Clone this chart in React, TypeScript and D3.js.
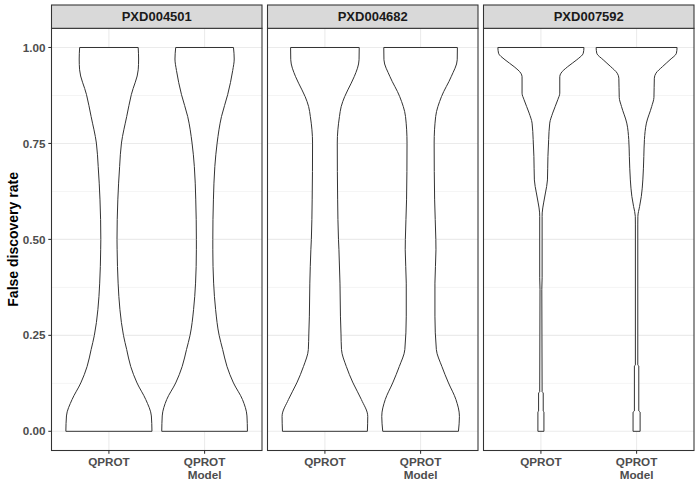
import React from "react";
import * as d3 from "d3";

const panels = ["PXD004501", "PXD004682", "PXD007592"];
const methods = ["QPROT", "QPROT Model"];
const methodLines: Record<string, string[]> = { "QPROT": ["QPROT"], "QPROT Model": ["QPROT", "Model"] };
const yTicks = [0, 0.25, 0.5, 0.75, 1];
const yTickLabels = ["0.00", "0.25", "0.50", "0.75", "1.00"];
const yMinorTicks = [0.125, 0.375, 0.625, 0.875];
const yTitle = "False discovery rate";

// PXD004501 – QPROT
const fdrA_Q = [0, 0.04, 0.083, 0.126, 0.169, 0.213, 0.25, 0.317, 0.386, 0.473, 0.5, 0.603, 0.69, 0.751, 0.82, 0.877, 0.942, 0.97, 1];
const densA_Q = [1.0, 0.986, 0.855, 0.653, 0.506, 0.413, 0.338, 0.256, 0.214, 0.191, 0.188, 0.207, 0.249, 0.291, 0.413, 0.52, 0.681, 0.69, 0.68];
// PXD004501 – QPROT Model
const fdrA_M = [0, 0.04, 0.083, 0.126, 0.169, 0.213, 0.25, 0.317, 0.386, 0.473, 0.5, 0.603, 0.69, 0.751, 0.82, 0.877, 0.94, 0.97, 1];
const densA_M = [0.995, 0.984, 0.879, 0.671, 0.52, 0.42, 0.338, 0.256, 0.21, 0.191, 0.191, 0.205, 0.238, 0.291, 0.392, 0.536, 0.653, 0.688, 0.671];

// PXD004682 – QPROT
const fdrB_Q = [0, 0.039, 0.083, 0.126, 0.169, 0.213, 0.256, 0.3, 0.386, 0.473, 0.5, 0.603, 0.751, 0.82, 0.846, 0.872, 0.907, 0.924, 0.968, 1];
const densB_Q = [0.986, 0.995, 0.846, 0.653, 0.497, 0.385, 0.373, 0.361, 0.35, 0.326, 0.315, 0.296, 0.287, 0.338, 0.378, 0.459, 0.611, 0.681, 0.793, 0.797];
// PXD004682 – QPROT Model
const fdrB_M = [0, 0.039, 0.083, 0.126, 0.169, 0.213, 0.3, 0.386, 0.473, 0.5, 0.603, 0.751, 0.82, 0.872, 0.924, 0.968, 1];
const densB_M = [0.879, 0.902, 0.82, 0.648, 0.494, 0.366, 0.333, 0.333, 0.357, 0.354, 0.326, 0.315, 0.35, 0.485, 0.711, 0.851, 0.855];

// PXD007592 – QPROT
const fdrC_Q = [0, 0.05, 0.053, 0.1, 0.103, 0.37, 0.4, 0.56, 0.569, 0.595, 0.621, 0.655, 0.716, 0.76, 0.803, 0.829, 0.864, 0.881, 0.924, 0.933, 0.95, 0.968, 0.985, 1];
const densC_Q = [0.07, 0.07, 0.054, 0.054, 0.028, 0.021, 0.028, 0.028, 0.03, 0.063, 0.105, 0.152, 0.163, 0.18, 0.205, 0.273, 0.392, 0.438, 0.438, 0.466, 0.622, 0.834, 0.984, 1.0];
// PXD007592 – QPROT Model
const fdrC_M = [0, 0.05, 0.053, 0.17, 0.173, 0.54, 0.56, 0.586, 0.612, 0.655, 0.716, 0.76, 0.803, 0.846, 0.87, 0.92, 0.933, 0.95, 0.968, 0.985, 1];
const densC_M = [0.082, 0.082, 0.051, 0.051, 0.028, 0.028, 0.03, 0.07, 0.11, 0.145, 0.168, 0.182, 0.228, 0.35, 0.403, 0.412, 0.45, 0.6, 0.776, 0.925, 0.94];

const violins = [
  { panel: "PXD004501", method: "QPROT", fdr: fdrA_Q, dens: densA_Q },
  { panel: "PXD004501", method: "QPROT Model", fdr: fdrA_M, dens: densA_M },
  { panel: "PXD004682", method: "QPROT", fdr: fdrB_Q, dens: densB_Q },
  { panel: "PXD004682", method: "QPROT Model", fdr: fdrB_M, dens: densB_M },
  { panel: "PXD007592", method: "QPROT", fdr: fdrC_Q, dens: densC_Q },
  { panel: "PXD007592", method: "QPROT Model", fdr: fdrC_M, dens: densC_M },
];

const W = 700;
const H = 500;
const plotLeft = 51.5;
const panelW = 210.5;
const gap = 5.5;
const stripTop = 5;
const stripH = 23.3;
const panelTop = stripTop + stripH;
const panelBottom = 450.5;
const font = "'Liberation Sans', Arial, Helvetica, sans-serif";

export default function App() {
  const y = d3.scaleLinear().domain([-0.05, 1.05]).range([panelBottom, panelTop]);

  return (
    <svg width={W} height={H} style={{ position: "absolute", left: 0, top: 0, background: "white" }} fontFamily={font}>
      <rect x={0} y={0} width={W} height={H} fill="white" />
      {panels.map((p, pi) => {
        const left = plotLeft + pi * (panelW + gap);
        const right = left + panelW;
        const x = d3.scalePoint<string>().domain(methods).range([left, right]).padding(0.6);
        const hwMax = 0.45 * x.step();
        const vs = violins.filter((v) => v.panel === p);
        return (
          <g key={p}>
            {/* grid */}
            {yMinorTicks.map((t) => (
              <line key={"mn" + t} x1={left} x2={right} y1={y(t)} y2={y(t)} stroke="#EBEBEB" strokeWidth={0.55} />
            ))}
            {yTicks.map((t) => (
              <line key={"mj" + t} x1={left} x2={right} y1={y(t)} y2={y(t)} stroke="#EBEBEB" strokeWidth={1.07} />
            ))}
            {methods.map((m) => (
              <line key={"vx" + m} x1={x(m)} x2={x(m)} y1={panelTop} y2={panelBottom} stroke="#EBEBEB" strokeWidth={1.07} />
            ))}
            {/* violins */}
            {vs.map((v) => {
              const cx = x(v.method) as number;
              const pts = v.fdr.map((f, i) => [f, v.dens[i]] as [number, number]);
              const area = d3
                .area<[number, number]>()
                .curve(d3.curveMonotoneY)
                .y((d) => y(d[0]))
                .x0((d) => cx - d[1] * hwMax)
                .x1((d) => cx + d[1] * hwMax);
              return (
                <path key={v.method} d={area(pts) || ""} fill="white" stroke="#333333" strokeWidth={1} strokeLinejoin="round" />
              );
            })}
            {/* panel border */}
            <rect x={left} y={panelTop} width={panelW} height={panelBottom - panelTop} fill="none" stroke="#333333" strokeWidth={1.07} />
            {/* strip */}
            <rect x={left} y={stripTop} width={panelW} height={stripH} fill="#D9D9D9" stroke="#333333" strokeWidth={1.07} />
            <text x={(left + right) / 2} y={stripTop + stripH / 2 + 4.6} textAnchor="middle" fontSize={13} fontWeight="bold" fill="#1A1A1A">
              {p}
            </text>
            {/* x ticks */}
            {methods.map((m) => (
              <g key={"xt" + m}>
                <line x1={x(m)} x2={x(m)} y1={panelBottom} y2={panelBottom + 3.2} stroke="#333333" strokeWidth={1.07} />
                {methodLines[m].map((ln, li) => (
                  <text key={li} x={x(m)} y={465.7 + li * 13.2} textAnchor="middle" fontSize={11.7} fontWeight="bold" fill="#4D4D4D">
                    {ln}
                  </text>
                ))}
              </g>
            ))}
          </g>
        );
      })}
      {/* y axis ticks & labels */}
      {yTicks.map((t, i) => (
        <g key={"yt" + t}>
          <line x1={plotLeft - 3.2} x2={plotLeft} y1={y(t)} y2={y(t)} stroke="#333333" strokeWidth={1.07} />
          <text x={45.5} y={y(t) + 4.1} textAnchor="end" fontSize={11.7} fontWeight="bold" fill="#4D4D4D">
            {yTickLabels[i]}
          </text>
        </g>
      ))}
      <text
        transform={`translate(18.3, ${(panelTop + panelBottom) / 2}) rotate(-90)`}
        textAnchor="middle"
        fontSize={14}
        fontWeight="bold"
        fill="#000000"
      >
        {yTitle}
      </text>
    </svg>
  );
}
